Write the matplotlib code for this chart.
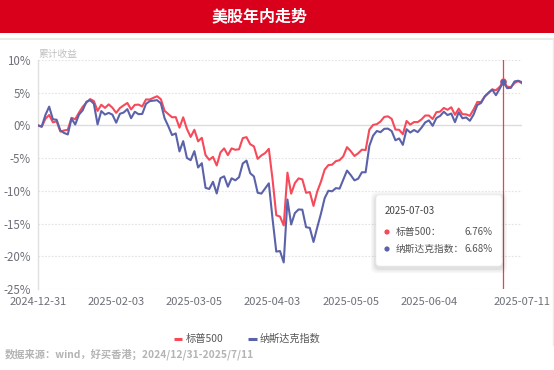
import matplotlib
matplotlib.use("Agg")
import matplotlib.pyplot as plt
from matplotlib.patches import FancyBboxPatch, Rectangle, Circle
from matplotlib.lines import Line2D
from matplotlib.transforms import Affine2D
import pandas as pd

plt.rcParams['font.family'] = ['Noto Sans CJK SC', 'DejaVu Sans']

# ---------------- data ----------------
holidays = ['2025-01-01', '2025-01-09', '2025-01-20', '2025-02-17', '2025-04-18',
            '2025-05-26', '2025-06-19', '2025-07-04']
dates = [d.strftime('%Y-%m-%d') for d in pd.bdate_range('2024-12-31', '2025-07-11')
         if d.strftime('%Y-%m-%d') not in holidays]

sp500 = [0.00,
         -0.22, 1.03, 1.59, 0.47, 0.62, -0.93, -0.77, -0.66, 1.16, 0.95, 1.96, 2.85, 3.48, 4.03, 3.73, 2.22, 3.16, 2.68, 3.22, 2.70,
         1.92, 2.66, 3.06, 3.43, 2.45, 3.14, 3.18, 2.90, 3.97, 3.96, 4.22, 4.46, 4.01, 2.24, 1.73, 1.25, 1.27, -0.34, 1.24,
         -0.54, -1.76, -0.66, -2.43, -1.89, -4.54, -5.26, -4.80, -6.12, -4.13, -3.51, -4.54, -3.51, -3.72, -3.64, -1.94, -1.79, -2.88, -3.20, -5.11, -4.59,
         -4.23, -3.58, -8.25, -13.73, -13.93, -15.28, -7.22, -10.43, -8.81, -8.09, -8.25, -10.30, -10.18, -12.30, -10.10, -8.60, -6.75, -6.06, -6.00, -5.46, -5.31,
         -4.72, -3.32, -3.93, -4.67, -4.26, -3.70, -3.77, -0.64, 0.08, 0.19, 0.60, 1.30, 1.39, 1.00, -0.63, -0.67, -1.34, 0.68, 0.12, 0.52, 0.51,
         0.92, 1.51, 1.52, 0.98, 2.02, 2.11, 2.67, 2.39, 2.78, 1.62, 2.57, 1.72, 1.69, 1.47, 2.44, 3.58, 3.58, 4.41, 4.95, 5.50,
         5.38, 5.88, 6.76, 5.92, 5.85, 6.49, 6.78, 6.43]

nasdaq = [0.00,
          -0.16, 1.61, 2.87, 0.93, 0.87, -0.77, -1.15, -1.38, 1.04, 0.14, 1.65, 2.31, 3.62, 3.85, 3.33, 0.16, 2.19, 1.66, 1.92, 1.64,
          0.42, 1.78, 1.97, 2.49, 1.10, 2.09, 1.72, 1.76, 3.29, 3.71, 3.78, 3.86, 3.37, 1.10, -0.12, -1.47, -1.22, -3.97, -2.40,
          -4.97, -5.31, -3.93, -6.43, -5.77, -9.54, -9.71, -8.61, -10.40, -8.06, -7.78, -9.36, -8.08, -8.39, -7.91, -5.81, -5.38, -7.31, -7.80, -10.29, -10.42,
          -9.64, -8.85, -14.29, -19.28, -19.20, -20.94, -11.32, -15.14, -13.39, -12.84, -12.88, -15.55, -15.66, -17.81, -15.59, -13.48, -11.11, -9.98, -10.07, -9.58, -9.66,
          -8.29, -6.90, -7.59, -8.40, -8.14, -7.16, -7.16, -3.12, -1.56, -0.85, -1.03, -0.52, -0.49, -0.87, -2.27, -1.99, -2.97, -0.58, -1.09, -0.70, -1.02,
          -0.35, 0.46, 0.77, -0.06, 1.13, 1.45, 2.09, 1.58, 1.82, 0.50, 2.02, 1.09, 1.22, 0.71, 1.66, 3.12, 3.43, 4.44, 4.99, 5.48,
          4.62, 5.60, 6.68, 5.70, 5.74, 6.73, 6.83, 6.60]

series_names = ['标普500', '纳斯达克指数']
xtick_labels = ['2024-12-31', '2025-02-03', '2025-03-05', '2025-04-03', '2025-05-05', '2025-06-04', '2025-07-11']
yticks = [-25, -20, -15, -10, -5, 0, 5, 10]
tooltip_date = '2025-07-03'

title = '美股年内走势'
ylabel = '累计收益'
source = '数据来源：wind，好买香港；2024/12/31-2025/7/11'

# ---------------- style ----------------
W, H = 554, 370
RED = '#f64a5a'
BLUE = '#5b62a9'
TXT = '#6e7079'

fig = plt.figure(figsize=(W / 100, H / 100), dpi=100)
PX = Affine2D().scale(1, -1).translate(0, H)  # pixel coords, origin top-left

# title bar
fig.add_artist(Rectangle((0, 0), W, 33, transform=PX, facecolor='#d9001b', edgecolor='none'))
fig.text(260 / W, 1 - 16.5 / H, title, color='white', fontsize=11.5, fontweight='bold',
         ha='center', va='center')
fig.add_artist(Line2D([0, W], [39, 39], transform=PX, color='#e6e6e6', lw=1.2))
fig.add_artist(Line2D([552.5, 552.5], [39, 345], transform=PX, color='#ececec', lw=1))

# axes
L, R, T, B = 38, 522, 60, 289
ax = fig.add_axes([L / W, 1 - B / H, (R - L) / W, (B - T) / H])
x = list(range(len(dates)))
ax.set_xlim(0, len(dates) - 1)
ax.set_ylim(-25, 10)

for v in yticks:
    if v == 0:
        ax.axhline(0, color='#dcdcdc', lw=1, zorder=1)
    else:
        ax.axhline(v, color='#e3e3e3', lw=0.8, ls=(0, (1.5, 1.5)), zorder=1)

ax.plot(x, sp500, color=RED, lw=1.5, zorder=3, solid_joinstyle='round')
ax.plot(x, nasdaq, color=BLUE, lw=1.5, zorder=3, solid_joinstyle='round')

# crosshair at tooltip date
ci = dates.index(tooltip_date)
ax.axvline(ci, color='#e8414f', lw=0.9, zorder=4)
ax.plot([ci], [sp500[ci]], 'o', ms=3.5, color=RED, zorder=5)
ax.plot([ci], [nasdaq[ci]], 'o', ms=3.5, color=BLUE, zorder=5)

for s in ['top', 'right', 'bottom']:
    ax.spines[s].set_visible(False)
ax.spines['left'].set_color('#e0e0e0')
ax.spines['left'].set_linewidth(1)

ax.set_yticks(yticks)
ax.set_yticklabels([f'{v}%' for v in yticks], color=TXT, fontsize=8.3)
ax.set_xticks([dates.index(d) for d in xtick_labels])
ax.set_xticklabels(xtick_labels, color=TXT, fontsize=8)
ax.tick_params(axis='y', length=0, pad=5)
ax.tick_params(axis='x', length=0, pad=6)

fig.text(L / W, 1 - 53.5 / H, ylabel, color='#c0c0c0', fontsize=7, ha='left', va='center')

# legend
ly = 339
fig.add_artist(Line2D([173.5, 181.5], [ly, ly], transform=PX, color=RED, lw=2.2, solid_capstyle='butt'))
fig.text(186 / W, 1 - ly / H, series_names[0], color='#555555', fontsize=7.4, ha='left', va='center')
fig.add_artist(Line2D([248, 256.5], [ly, ly], transform=PX, color=BLUE, lw=2.2, solid_capstyle='butt'))
fig.text(260 / W, 1 - ly / H, series_names[1], color='#555555', fontsize=7.3, ha='left', va='center')

# source
fig.text(5 / W, 1 - 354.5 / H, source, color='#b4b4b4', fontsize=7.4, fontweight='bold',
         ha='left', va='center')

# tooltip
bx, by, bw, bh = 376, 195, 126, 71
for i, a in enumerate([0.03, 0.04, 0.05]):
    g = 5 - 1.5 * i
    fig.add_artist(FancyBboxPatch((bx - g, by - g + 2), bw + 2 * g, bh + 2 * g, transform=PX,
                                  boxstyle='round,pad=0,rounding_size=6', facecolor='#000000',
                                  edgecolor='none', alpha=a, zorder=9))
fig.add_artist(FancyBboxPatch((bx, by), bw, bh, transform=PX,
                              boxstyle='round,pad=0,rounding_size=4', facecolor='white',
                              edgecolor='#f0f0f0', lw=0.5, zorder=10))
fig.text(385 / W, 1 - 210.5 / H, tooltip_date, color='#444444', fontsize=7, ha='left', va='center', zorder=11)
for yy, col, name, val in [(232, RED, series_names[0], sp500[ci]), (249, BLUE, series_names[1], nasdaq[ci])]:
    fig.add_artist(Circle((387, yy), 2.6, transform=PX, facecolor=col, edgecolor='none', zorder=11))
    fig.text(396 / W, 1 - yy / H, name + '：', color='#555555', fontsize=7, ha='left', va='center', zorder=11)
    fig.text(492.5 / W, 1 - yy / H, f'{val:.2f}%', color='#555555', fontsize=7, ha='right', va='center', zorder=11)

fig.savefig('out.png', dpi=100)
